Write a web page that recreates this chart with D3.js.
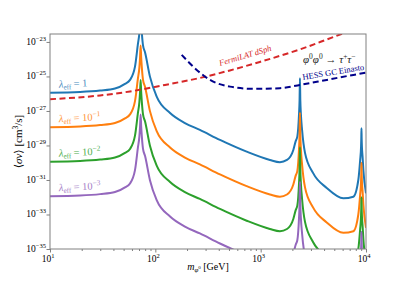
<!DOCTYPE html>
<html>
<head>
<meta charset="utf-8">
<script src="https://cdn.jsdelivr.net/npm/d3@7"></script>
<style>
  body { margin: 0; background: #fff; }
  text { font-family: "Liberation Serif", "DejaVu Serif", serif; }
</style>
</head>
<body>
<div id="chart"></div>
<script>
// Data: masses in GeV, cross sections as log10 <sigma v> [cm^3/s]
const masses = [10, 19.3, 29.9, 41.4, 51.5, 57.5, 64.1, 68.4, 70.5, 71.6,
  72.5, 73.4, 74.5, 76.4, 79.8, 88.9, 103, 138, 191, 265,
  411, 736, 1225, 1524, 1778, 2042, 2150, 2228, 2312, 2340,
  2360, 2380, 2410, 2472, 2636, 3141, 4236, 6095, 7586, 8453,
  8800, 8974, 9020, 9057, 9095, 9150, 9268, 9441, 10000];

const sigmaLam1 = [-25.94, -25.90, -25.82, -25.70, -25.43, -25.20, -24.43, -23.1, -22.5, -21.9,
  -21.2, -21.9, -22.5, -23.2, -23.6, -25.01, -26.17, -27.12, -27.70, -28.10,
  -28.68, -29.36, -29.84, -29.97, -29.84, -29.26, -28.75, -28.49, -27.2, -26.4,
  -25.10, -26.4, -27.2, -28.10, -29.43, -30.59, -31.46, -32.06, -31.97, -31.00,
  -29.85, -29.07, -28.6, -28.0, -28.6, -29.1, -29.6, -30.42, -31.77];
const sigmaLam01 = [-27.94, -27.90, -27.82, -27.70, -27.43, -27.20, -26.43, -25.1, -24.5, -23.9,
  -23.2, -23.9, -24.5, -25.2, -25.6, -27.01, -28.17, -29.12, -29.70, -30.10,
  -30.68, -31.36, -31.84, -31.97, -31.84, -31.26, -30.75, -30.49, -29.2, -28.4,
  -27.10, -28.4, -29.2, -30.10, -31.43, -32.59, -33.46, -34.06, -33.97, -33.00,
  -31.85, -31.07, -30.6, -30.0, -30.6, -31.1, -31.6, -32.42, -33.77];
const sigmaLam001 = [-29.94, -29.90, -29.82, -29.70, -29.43, -29.20, -28.43, -27.1, -26.5, -25.9,
  -25.2, -25.9, -26.5, -27.2, -27.6, -29.01, -30.17, -31.12, -31.70, -32.10,
  -32.68, -33.36, -33.84, -33.97, -33.84, -33.26, -32.75, -32.49, -31.2, -30.4,
  -29.10, -30.4, -31.2, -32.10, -33.43, -34.59, -35.46, -36.06, -35.97, -35.00,
  -33.85, -33.07, -32.6, -32.0, -32.6, -33.1, -33.6, -34.42, -35.77];
const sigmaLam0001 = [-31.94, -31.90, -31.82, -31.70, -31.43, -31.20, -30.43, -29.1, -28.5, -27.9,
  -27.2, -27.9, -28.5, -29.2, -29.6, -31.01, -32.17, -33.12, -33.70, -34.10,
  -34.68, -35.36, -35.84, -35.97, -35.84, -35.26, -34.75, -34.49, -33.2, -32.4,
  -31.10, -32.4, -33.2, -34.10, -35.43, -36.59, -37.46, -38.06, -37.97, -37.00,
  -35.85, -35.07, -34.6, -34.0, -34.6, -35.1, -35.6, -36.42, -37.77];

// FermiLAT dSph limit
const fermiMass = [10, 29.9, 57.5, 123.5, 264, 510, 981, 2366, 6166, 8875];
const fermiSigma = [-26.32, -26.10, -25.87, -25.49, -25.09, -24.65, -24.16, -23.43, -22.50, -22.19];

// HESS GC Einasto limit
const hessMass = [178, 247, 330, 512, 851, 1524, 2360, 4236, 7586, 10000];
const hessSigma = [-23.75, -24.62, -25.20, -25.59, -25.72, -25.68, -25.49, -25.20, -24.91, -24.78];

const lambdaExp = ['1', '10', '10', '10'];
const lambdaSup = ['', '\u22121', '\u22122', '\u22123'];
const yTickExp = [-35, -33, -31, -29, -27, -25, -23];
const xTickExp = [1, 2, 3, 4];

//Visual
const width = 407;
const height = 285;
const margin = { top: 34, right: 41, bottom: 36, left: 50 };
const colors = ['#1f77b4', '#ff7f0e', '#2ca02c', '#9467bd'];
const axisGray = '#808080';

const svg = d3.select('#chart')
  .append('svg')
  .attr('width', width)
  .attr('height', height);

const xScale = d3.scaleLog()
  .domain([10, 1e4])
  .range([margin.left, width - margin.right]);

const yScale = d3.scaleLog()
  .domain([1e-35, Math.pow(10, -22.54)])
  .range([height - margin.bottom, margin.top]);

svg.append('clipPath')
  .attr('id', 'plotClip')
  .append('rect')
  .attr('x', margin.left)
  .attr('y', margin.top)
  .attr('width', width - margin.left - margin.right)
  .attr('height', height - margin.top - margin.bottom);

const plot = svg.append('g').attr('clip-path', 'url(#plotClip)');

const line = d3.line()
  .x(d => xScale(d[0]))
  .y(d => yScale(Math.pow(10, d[1])))
  .curve(d3.curveMonotoneX);

const series = [sigmaLam1, sigmaLam01, sigmaLam001, sigmaLam0001];

series.forEach((s, i) => {
  plot.append('path')
    .datum(masses.map((m, j) => [m, s[j]]))
    .attr('d', line)
    .attr('fill', 'none')
    .attr('stroke', colors[i])
    .attr('stroke-width', 2);
});

plot.append('path')
  .datum(fermiMass.map((m, j) => [m, fermiSigma[j]]))
  .attr('d', line)
  .attr('fill', 'none')
  .attr('stroke', '#d62728')
  .attr('stroke-width', 2)
  .attr('stroke-dasharray', '6,3.5');

plot.append('path')
  .datum(hessMass.map((m, j) => [m, hessSigma[j]]))
  .attr('d', line)
  .attr('fill', 'none')
  .attr('stroke', '#00008b')
  .attr('stroke-width', 2)
  .attr('stroke-dasharray', '6,3.5');

// Frame
svg.append('rect')
  .attr('x', margin.left)
  .attr('y', margin.top)
  .attr('width', width - margin.left - margin.right)
  .attr('height', height - margin.top - margin.bottom)
  .attr('fill', 'none')
  .attr('stroke', axisGray)
  .attr('stroke-width', 1);

// X axis
const xMinor = [];
[10, 100, 1000].forEach(b => { for (let k = 2; k <= 9; k++) xMinor.push(b * k); });

const xAxis = svg.append('g')
  .attr('transform', `translate(0,${height - margin.bottom})`)
  .call(d3.axisBottom(xScale).tickValues(xTickExp.map(e => Math.pow(10, e))).tickFormat('').tickSizeOuter(0).tickSize(3.5));
xAxis.select('.domain').remove();
xAxis.selectAll('line').attr('stroke', axisGray);

const xMinorAxis = svg.append('g')
  .attr('transform', `translate(0,${height - margin.bottom})`)
  .call(d3.axisBottom(xScale).tickValues(xMinor).tickFormat('').tickSizeOuter(0).tickSize(2));
xMinorAxis.select('.domain').remove();
xMinorAxis.selectAll('line').attr('stroke', axisGray);

const xLabels = svg.selectAll('.xlab')
  .data(xTickExp)
  .enter()
  .append('text')
  .attr('class', 'xlab')
  .attr('x', d => xScale(Math.pow(10, d)) - 2)
  .attr('y', height - margin.bottom + 13)
  .attr('text-anchor', 'middle')
  .style('font-size', '9.5px');
xLabels.append('tspan').text('10');
xLabels.append('tspan').attr('dy', -4).style('font-size', '6.5px').text(d => d);

// Y axis
const yAxis = svg.append('g')
  .attr('transform', `translate(${margin.left},0)`)
  .call(d3.axisLeft(yScale).tickValues(yTickExp.map(e => Math.pow(10, e))).tickFormat('').tickSizeOuter(0).tickSize(3.5));
yAxis.select('.domain').remove();
yAxis.selectAll('line').attr('stroke', axisGray);

const yLabels = svg.selectAll('.ylab')
  .data(yTickExp)
  .enter()
  .append('text')
  .attr('class', 'ylab')
  .attr('x', margin.left - 4)
  .attr('y', d => yScale(Math.pow(10, d)) + 3)
  .attr('text-anchor', 'end')
  .style('font-size', '9.5px');
yLabels.append('tspan').text('10');
yLabels.append('tspan').attr('dy', -4).style('font-size', '6.5px').text(d => '\u2212' + Math.abs(d));

// Axis titles
const xTitle = svg.append('text')
  .attr('x', (margin.left + width - margin.right) / 2)
  .attr('y', height - 15)
  .attr('text-anchor', 'middle')
  .style('font-size', '10px');
xTitle.append('tspan').style('font-style', 'italic').text('m');
xTitle.append('tspan').attr('dy', 2).style('font-size', '7px').style('font-style', 'italic').text('\u03c6');
xTitle.append('tspan').attr('dy', -3).style('font-size', '5px').text('0');
xTitle.append('tspan').attr('dy', 1).text(' [GeV]');

const yTitle = svg.append('text')
  .attr('transform', `translate(22,${(margin.top + height - margin.bottom) / 2}) rotate(-90)`)
  .attr('text-anchor', 'middle')
  .style('font-size', '11px');
yTitle.append('tspan').text('\u27e8');
yTitle.append('tspan').style('font-style', 'italic').text('\u03c3v');
yTitle.append('tspan').text('\u27e9 [cm');
yTitle.append('tspan').attr('dy', -4).style('font-size', '7.5px').text('3');
yTitle.append('tspan').attr('dy', 4).text('/s]');

// Coupling labels
series.forEach((s, i) => {
  const t = svg.append('text')
    .attr('transform', `translate(59,${yScale(Math.pow(10, s[0])) - 5}) rotate(-3)`)
    .attr('fill', colors[i])
    .attr('opacity', 0.85)
    .style('font-size', '10.5px');
  t.append('tspan').style('font-style', 'italic').text('\u03bb');
  t.append('tspan').attr('dy', 2).style('font-size', '7px').text('eff');
  t.append('tspan').attr('dy', -2).text(' = ' + lambdaExp[i]);
  if (lambdaSup[i]) t.append('tspan').attr('dy', -4).style('font-size', '7.5px').text(lambdaSup[i]);
});

// Limit labels
svg.append('text')
  .attr('transform', `translate(${xScale(411)},${yScale(Math.pow(10, -24.39))}) rotate(-16.5)`)
  .attr('fill', '#d62728')
  .style('font-size', '8.5px')
  .style('font-style', 'italic')
  .text('FermiLAT dSph');

svg.append('text')
  .attr('transform', `translate(303,80) rotate(-9.5)`)
  .attr('fill', '#00008b')
  .style('font-size', '8.5px')
  .text('HESS GC Einasto');

const chan = svg.append('text')
  .attr('x', 303)
  .attr('y', 63)
  .attr('fill', '#222')
  .style('font-size', '11px');
chan.append('tspan').style('font-style', 'italic').text('\u03c6');
chan.append('tspan').attr('dy', -4).style('font-size', '7.5px').text('0');
chan.append('tspan').attr('dy', 4).style('font-style', 'italic').text('\u03c6');
chan.append('tspan').attr('dy', -4).style('font-size', '7.5px').text('0');
chan.append('tspan').attr('dy', 4).text(' \u2192 ');
chan.append('tspan').style('font-style', 'italic').text('\u03c4');
chan.append('tspan').attr('dy', -4).style('font-size', '7.5px').text('+');
chan.append('tspan').attr('dy', 4).style('font-style', 'italic').text('\u03c4');
chan.append('tspan').attr('dy', -4).style('font-size', '7.5px').text('\u2212');
</script>
</body>
</html>
